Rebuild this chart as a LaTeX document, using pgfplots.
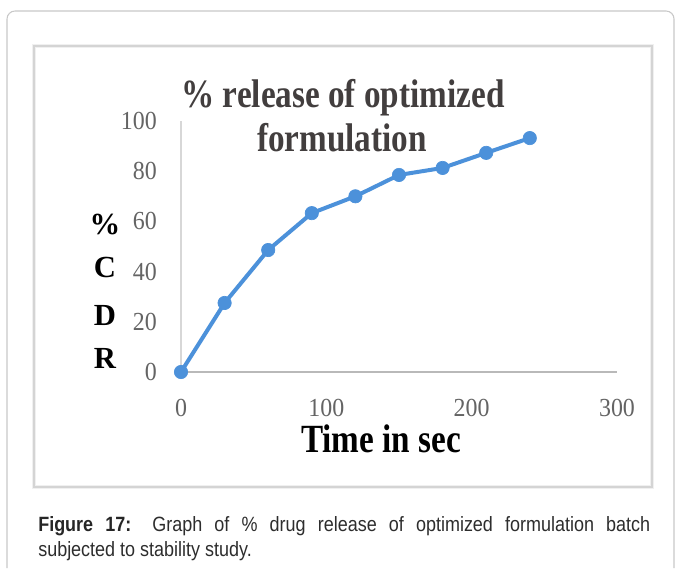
\documentclass[border=0pt]{standalone}
\usepackage{pgfplots}
\pgfplotsset{compat=1.18}
\usepackage{fontspec}
\setmainfont{Liberation Serif}
\newfontfamily\titlefont[FakeStretch=0.83]{Liberation Serif}
\newfontfamily\tickfont[FakeStretch=0.92]{Liberation Serif}
\newfontfamily\capfont[FakeStretch=0.87]{Liberation Sans}

\definecolor{seriesblue}{RGB}{76,145,218}
\definecolor{titlegray}{RGB}{66,62,62}
\definecolor{tickgray}{RGB}{100,100,100}
\definecolor{xaxisgray}{RGB}{185,185,185}
\definecolor{yaxisgray}{RGB}{215,215,215}
\definecolor{framegray}{RGB}{200,200,200}
\definecolor{boxgray}{RGB}{212,212,212}
\definecolor{captext}{RGB}{45,45,45}

\begin{document}
\begin{tikzpicture}[x=0.75pt,y=0.75pt]
\useasboundingbox (0,0) rectangle (681,568);

% outer rounded frame of the figure panel
\draw[framegray, line width=0.8pt, rounded corners=6pt]
  (7,0) -- (7,557) -- (674,557) -- (674,0);

% chart frame with a soft edge
\draw[gray!12, line width=3.5pt] (34,81) rectangle (652,522);
\draw[boxgray, line width=1.3pt] (34,81) rectangle (652,522);

\begin{axis}[
  at={(135.75pt,147pt)}, anchor=origin,
  scale only axis, width=327pt, height=188.25pt,
  xmin=0, xmax=300, ymin=0, ymax=100,
  xtick={0,100,200,300}, ytick={0,20,40,60,80,100},
  axis x line=bottom, axis y line=left,
  x axis line style={-, xaxisgray, line width=1.8pt},
  y axis line style={-, yaxisgray, line width=1.1pt},
  major tick length=0pt,
  /pgf/number format/assume math mode=true,
  tick label style={font=\tickfont\fontsize{19.5pt}{22pt}\selectfont, text=tickgray},
  yticklabel style={anchor=east, inner sep=0pt, xshift=-18pt},
  xticklabel style={anchor=north, inner sep=0pt, yshift=-20.5pt},
  clip=false,
]
\addplot[seriesblue, line width=3pt, mark=*, mark size=5pt,
         mark options={fill=seriesblue, draw=seriesblue, line width=0.5pt}]
  coordinates {
    (0,0) (30,27.5) (60,48.6) (90,63.3) (120,70.0)
    (150,78.5) (180,81.3) (210,87.3) (240,93.2)
  };
\end{axis}

% chart title
\node[anchor=base, text=titlegray, inner sep=0pt]
  at (343,460) {\titlefont\bfseries\fontsize{30pt}{33pt}\selectfont \% release of optimized};
\node[anchor=base, text=titlegray, inner sep=0pt]
  at (342,416) {\titlefont\bfseries\fontsize{30pt}{33pt}\selectfont formulation};

% y axis label, stacked letters
\foreach \ch/\yy in {\%/333, C/290, D/243, R/200}
  \node[anchor=base, inner sep=0pt] at (105,\yy)
    {\bfseries\fontsize{23pt}{24pt}\selectfont \ch};

% x axis label
\node[anchor=base, inner sep=0pt]
  at (381,116) {\titlefont\bfseries\fontsize{30pt}{33pt}\selectfont Time in sec};

% figure caption
\node[anchor=base west, inner sep=0pt, text=captext] at (38,51)
  {\begin{minipage}[t]{459pt}
   \capfont\fontsize{15.5pt}{18.75pt}\selectfont
   {\bfseries\color{black!85}Figure 17:} Graph of \% drug release of optimized formulation batch\linebreak
   subjected to stability study.
   \end{minipage}};
\end{tikzpicture}
\end{document}
